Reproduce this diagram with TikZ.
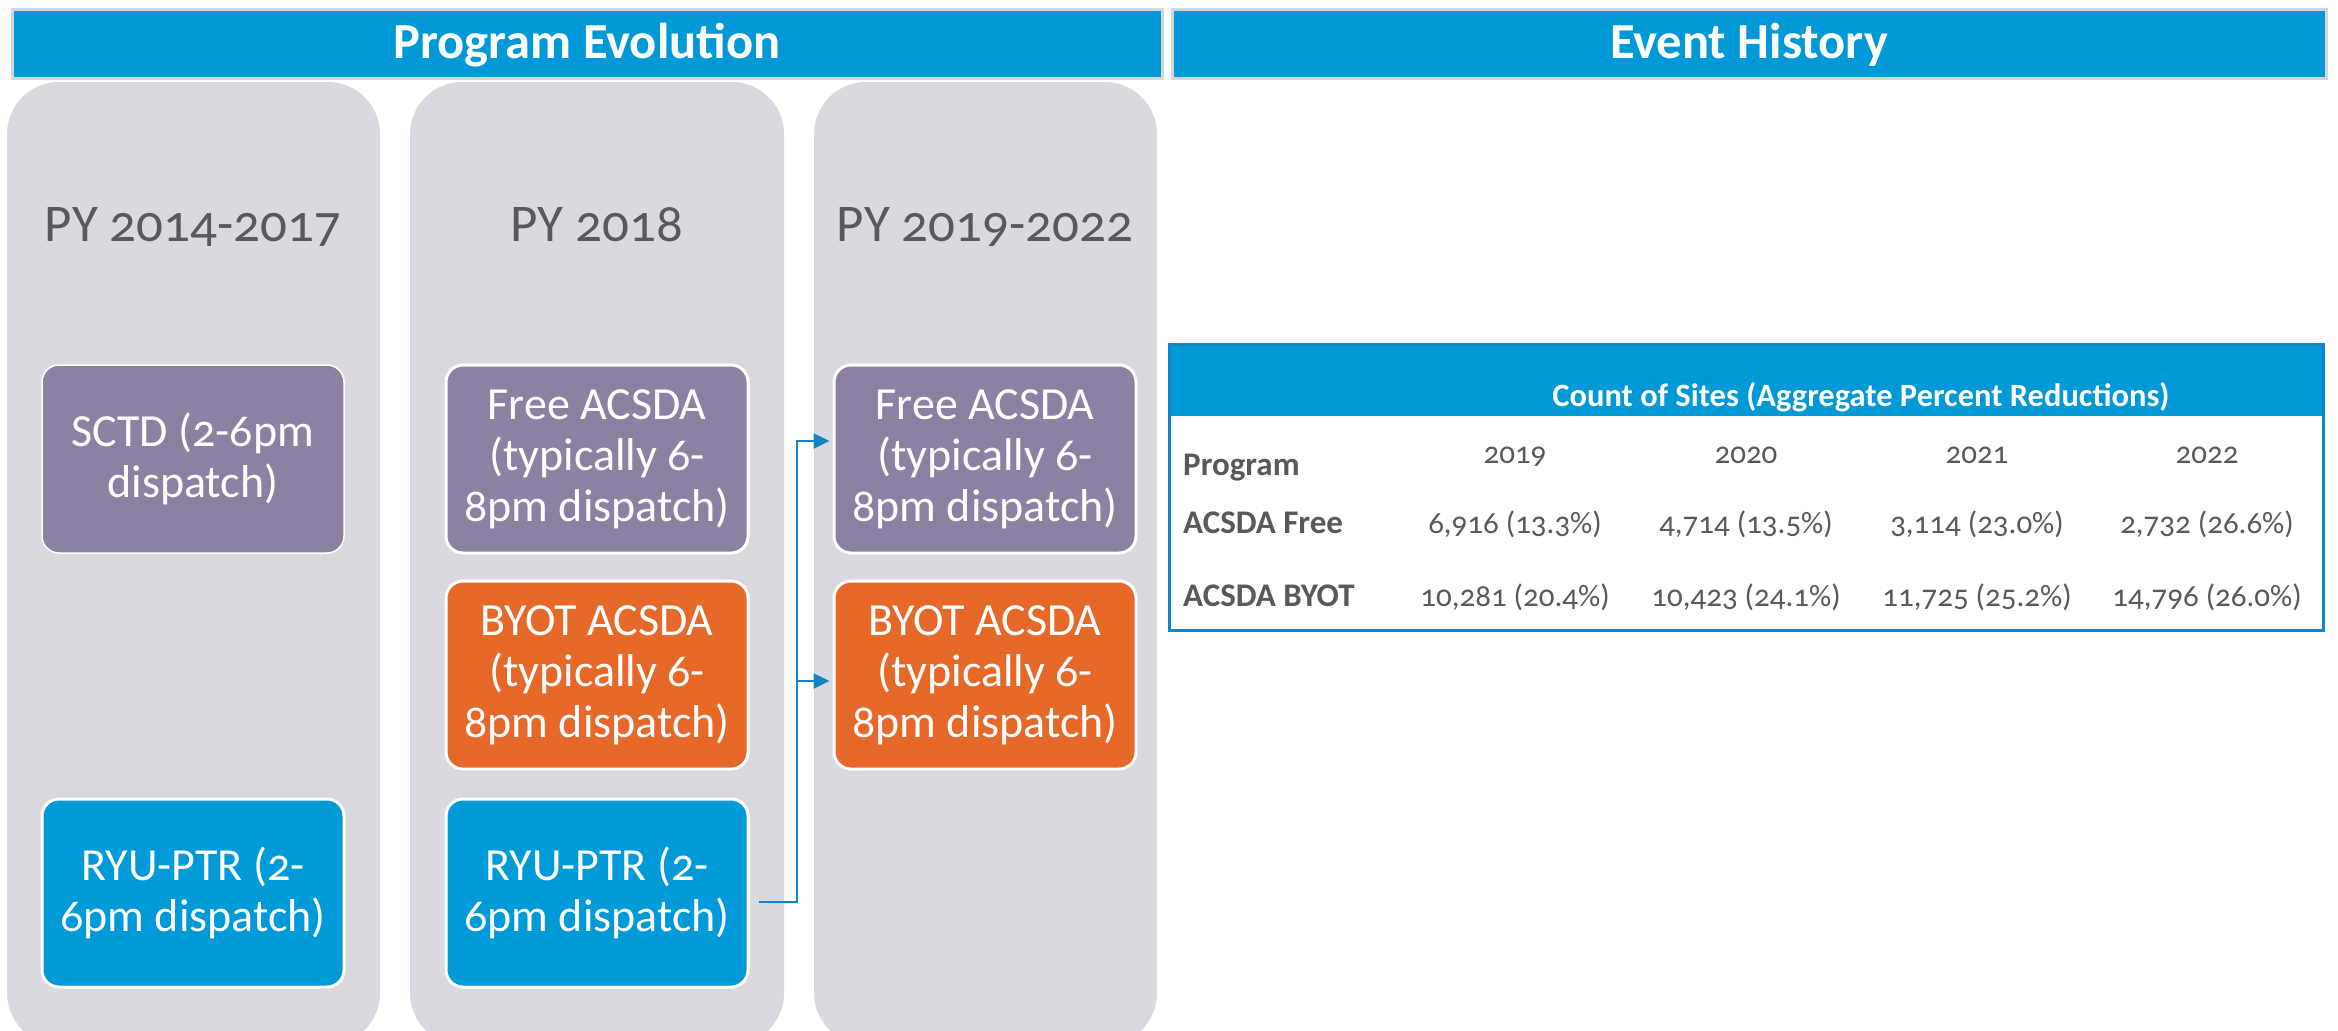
\documentclass[tikz,border=0pt]{standalone}
\usepackage{fontspec}
\setmainfont{Carlito}[Numbers=OldStyle]
\usetikzlibrary{arrows.meta}

\definecolor{hdrblue}{HTML}{0099D8}
\definecolor{hdredge}{HTML}{D6D6D6}
\definecolor{colbg}{HTML}{DBD9E0}
\definecolor{boxpurple}{HTML}{8C81A3}
\definecolor{boxorange}{HTML}{E6692A}
\definecolor{boxblue}{HTML}{009AD8}
\definecolor{linkblue}{HTML}{1385C6}
\definecolor{titlegray}{HTML}{595959}
\definecolor{tableedge}{HTML}{0B86C8}

\tikzset{
  hdr/.style={fill=hdrblue, draw=hdredge, line width=3pt},
  hdrtext/.style={text=white, anchor=base, inner sep=0pt,
    font=\bfseries\fontsize{50.5}{56}\selectfont},
  column/.style={fill=colbg, rounded corners=52pt},
  pytitle/.style={text=titlegray, anchor=base, inner sep=0pt,
    font=\fontsize{53}{60}\selectfont},
  prog/.style={rounded corners=17pt, draw=white, line width=3pt, text=white,
    minimum width=302pt, minimum height=188pt, align=center, inner sep=0pt,
    font=\fontsize{46}{51}\selectfont},
  purplebox/.style={prog, fill=boxpurple},
  orangebox/.style={prog, fill=boxorange},
  bluebox/.style={prog, fill=boxblue},
  flow/.style={draw=linkblue, line width=2.5pt,
    -{Triangle[length=16pt,width=15pt]}},
  tlabel/.style={anchor=base west, text=titlegray, inner sep=0pt,
    font=\bfseries\fontsize{33}{38}\selectfont},
  tcell/.style={anchor=base, text=titlegray, inner sep=0pt,
    font=\fontsize{31}{36}\selectfont},
}

\begin{document}
\begin{tikzpicture}[x=1pt, y=-1pt]
  \useasboundingbox (0,0) rectangle (2338,1031);
  \fill[white] (0,0) rectangle (2338,1031);
  \clip (0,0) rectangle (2338,1031);

  % section headers
  \path[hdr] (12,9) rectangle (1162,78);
  \node[hdrtext] (hprog) at (587,58) {Program Evolution};
  \path[hdr] (1172,9) rectangle (2326,78);
  \node[hdrtext] (hevent) at (1749,58) {Event History};

  % program year columns
  \path[column] (7,82) rectangle (380,1045);
  \path[column] (410,82) rectangle (784,1045);
  \path[column] (814,82) rectangle (1157,1045);

  \node[pytitle] (py1) at (193,241) {PY 2014-2017};
  \node[pytitle] (py2) at (597,241) {PY 2018};
  \node[pytitle] (py3) at (985,241) {PY 2019-2022};

  % programs per period
  \node[purplebox, line width=1.5pt] (sctd) at (193,459) {SCTD (2-6pm\\dispatch)};
  \node[bluebox] (ryu1) at (193,893) {RYU-PTR (2-\\6pm dispatch)};

  \node[purplebox] (free2) at (597,459) {Free ACSDA\\(typically 6-\\8pm dispatch)};
  \node[orangebox] (byot2) at (597,675) {BYOT ACSDA\\(typically 6-\\8pm dispatch)};
  \node[bluebox] (ryu2) at (597,893) {RYU-PTR (2-\\6pm dispatch)};

  \node[purplebox] (free3) at (985,459) {Free ACSDA\\(typically 6-\\8pm dispatch)};
  \node[orangebox] (byot3) at (985,675) {BYOT ACSDA\\(typically 6-\\8pm dispatch)};

  % RYU-PTR participants move into both ACSDA offerings
  \coordinate (rs) at ([xshift=9pt,yshift=-9pt]ryu2.east);
  \coordinate (jx) at (797,902);
  \coordinate (fa) at ([xshift=-3pt,yshift=18pt]free3.west);
  \coordinate (ba) at ([xshift=-3pt,yshift=-6pt]byot3.west);
  \draw[flow] (rs) -- (jx) |- (fa);
  \draw[flow] (jx |- ba) -- (ba);

  % event history table
  \fill[white] (1169,344) rectangle (2323,630);
  \fill[hdrblue] (1169,344) rectangle (2323,416);
  \draw[tableedge, line width=3pt] (1169,344) rectangle (2323,630);
  \node[anchor=base, text=white, inner sep=0pt,
        font=\bfseries\fontsize{32.5}{37}\selectfont] (ttitle) at (1861,406)
        {Count of Sites (Aggregate Percent Reductions)};

  \node[tlabel] (lprog) at (1183,475) {Program};
  \node[tcell] (y19) at (1515,463) {2019};
  \node[tcell] (y20) at (1746,463) {2020};
  \node[tcell] (y21) at (1977,463) {2021};
  \node[tcell] (y22) at (2207,463) {2022};

  \node[tlabel] (lfree) at (1183,533) {ACSDA Free};
  \node[tcell] (f19) at (1515,533) {6,916 (13.3\%)};
  \node[tcell] (f20) at (1746,533) {4,714 (13.5\%)};
  \node[tcell] (f21) at (1977,533) {3,114 (23.0\%)};
  \node[tcell] (f22) at (2207,533) {2,732 (26.6\%)};

  \node[tlabel] (lbyot) at (1183,606) {ACSDA BYOT};
  \node[tcell] (b19) at (1515,606) {10,281 (20.4\%)};
  \node[tcell] (b20) at (1746,606) {10,423 (24.1\%)};
  \node[tcell] (b21) at (1977,606) {11,725 (25.2\%)};
  \node[tcell] (b22) at (2207,606) {14,796 (26.0\%)};
\end{tikzpicture}
\end{document}
